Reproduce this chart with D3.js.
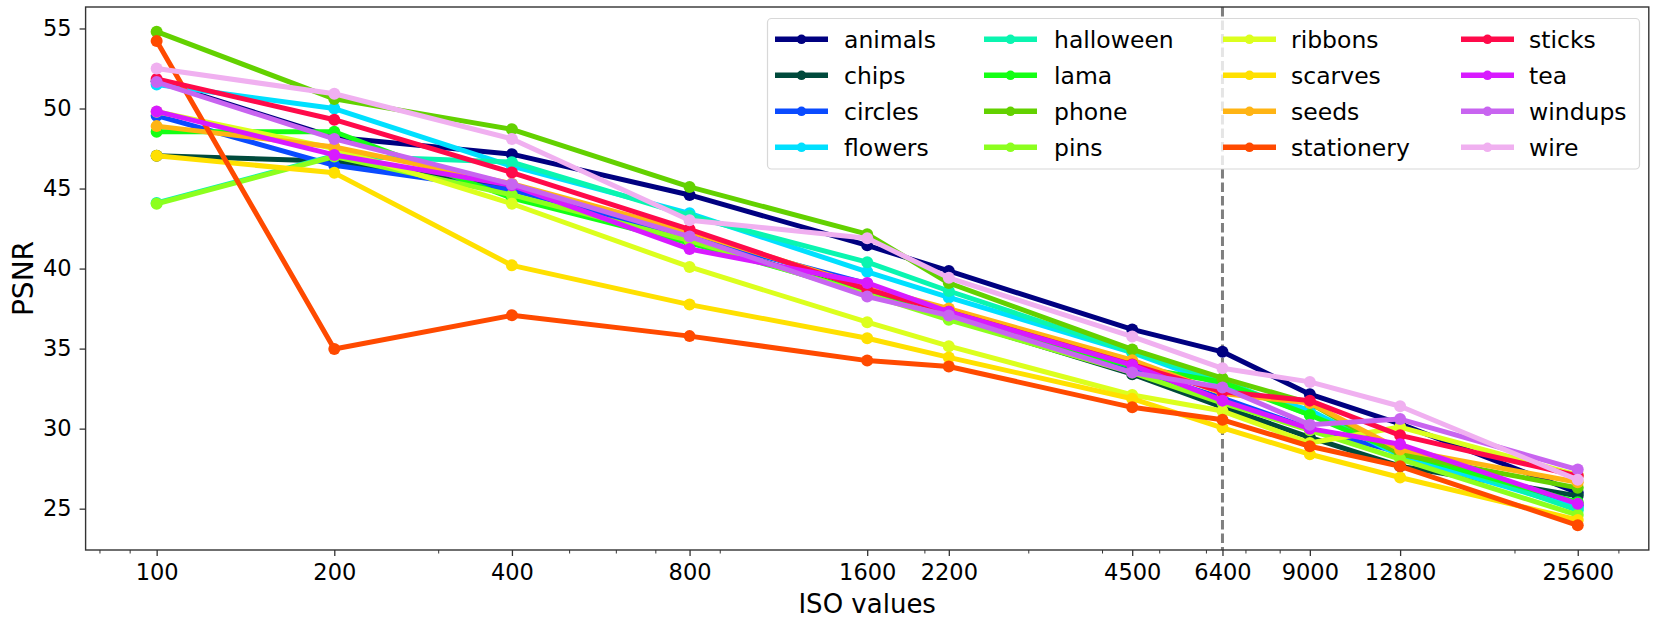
<!DOCTYPE html>
<html>
<head>
<meta charset="utf-8">
<script src="https://cdn.jsdelivr.net/npm/d3@7"></script>
<style>
  html, body { margin: 0; padding: 0; background: #fff; }
  svg { display: block; font-family: "DejaVu Sans", sans-serif; }
</style>
</head>
<body>
<svg id="chart" width="1655" height="626"></svg>
<script>
const isoValues = [100, 200, 400, 800, 1600, 2200, 4500, 6400, 9000, 12800, 25600];
const xTickLabels = ["100", "200", "400", "800", "1600", "2200", "4500", "6400", "9000", "12800", "25600"];
const yTickValues = [25, 30, 35, 40, 45, 50, 55];
const seriesNames = ["animals", "chips", "circles", "flowers", "halloween", "lama", "phone", "pins",
                     "ribbons", "scarves", "seeds", "stationery", "sticks", "tea", "windups", "wire"];
const seriesColors = ["#000080", "#004a3c", "#0a4bff", "#00e0ff", "#0af5b0", "#14ff14", "#63d100", "#8cff1e",
                      "#dcff1e", "#ffe000", "#ffb414", "#ff4a00", "#ff0a4a", "#d81aff", "#c864f0", "#f0b0f0"];
const animals    = [51.70, 48.20, 47.15, 44.60, 41.45, 39.85, 36.20, 34.80, 32.15, 30.30, 26.00];
const chips      = [47.05, 46.70, 45.10, 41.85, 38.45, 36.90, 33.40, 31.35, 29.45, 27.65, 25.80];
const circles    = [49.55, 46.45, 44.90, 42.00, 39.05, 37.20, 33.70, 31.90, 30.00, 28.50, 25.20];
const flowers    = [51.50, 50.00, 46.40, 43.45, 39.80, 38.20, 34.75, 32.70, 31.15, 28.30, 25.05];
const halloween  = [44.10, 47.05, 46.65, 43.30, 40.40, 38.60, 34.80, 33.00, 30.85, 28.75, 24.90];
const lama       = [48.55, 48.55, 44.40, 41.60, 38.50, 36.90, 33.90, 32.90, 30.85, 28.50, 25.40];
const phone      = [54.80, 50.60, 48.70, 45.10, 42.15, 39.10, 34.95, 33.15, 31.60, 28.40, 26.30];
const pins       = [44.05, 47.00, 44.60, 41.75, 38.40, 36.80, 33.50, 31.60, 29.90, 28.10, 24.60];
const ribbons    = [49.80, 47.50, 44.05, 40.10, 36.65, 35.15, 32.10, 31.10, 29.10, 30.10, 27.10];
const scarves    = [47.05, 45.98, 40.20, 37.75, 35.65, 34.45, 31.87, 30.05, 28.40, 26.95, 24.30];
const seeds      = [48.90, 47.60, 45.30, 42.30, 38.85, 37.50, 34.28, 32.20, 31.60, 28.70, 26.65];
const stationery = [54.22, 34.98, 37.08, 35.78, 34.25, 33.88, 31.33, 30.55, 28.90, 27.65, 23.96];
const sticks     = [51.85, 49.30, 46.00, 42.45, 38.70, 37.30, 34.00, 32.30, 31.75, 29.58, 27.05];
const tea        = [49.82, 47.10, 45.20, 41.22, 39.10, 37.30, 33.97, 31.75, 30.00, 29.02, 25.30];
const windups    = [51.65, 48.10, 45.27, 42.00, 38.25, 37.07, 33.50, 32.57, 30.25, 30.60, 27.44];
const wire       = [52.50, 50.92, 48.10, 43.02, 41.90, 39.42, 35.75, 33.77, 32.92, 31.40, 26.80];
const seriesValues = [animals, chips, circles, flowers, halloween, lama, phone, pins,
                      ribbons, scarves, seeds, stationery, sticks, tea, windups, wire];
const referenceIso = 6400;
const xLabel = "ISO values";
const yLabel = "PSNR";

const svg = d3.select("#chart");
const plot = { left: 85.6, right: 1648.8, top: 7, bottom: 550 };

// x: log scale with matplotlib-like 5% margins in log space
const xMin = d3.min(isoValues), xMax = d3.max(isoValues);
const lpad = 0.05 * Math.log10(xMax / xMin);
const x = d3.scaleLog()
  .domain([xMin / Math.pow(10, lpad), xMax * Math.pow(10, lpad)])
  .range([plot.left, plot.right]);

const allVals = seriesValues.flat();
const yMin = d3.min(allVals), yMax = d3.max(allVals);
const ypad = 0.05 * (yMax - yMin);
const y = d3.scaleLinear()
  .domain([yMin - ypad, yMax + ypad])
  .range([plot.bottom, plot.top]);

const fs = 22.5;

// minor ticks (log minors, excluding those coinciding with majors)
const [d0, d1] = x.domain();
const minorTicks = [];
for (let e = Math.floor(Math.log10(d0)); e <= Math.ceil(Math.log10(d1)); e++) {
  for (let s = 2; s <= 9; s++) {
    const v = s * Math.pow(10, e);
    if (v >= d0 && v <= d1 && !isoValues.some(t => Math.abs(t - v) < 1e-6)) minorTicks.push(v);
  }
}

// X axis
const xAxis = d3.axisBottom(x).tickValues(isoValues)
  .tickFormat((d, i) => xTickLabels[i]).tickSize(6).tickPadding(8);
const gx = svg.append("g").attr("transform", `translate(0,${plot.bottom})`).call(xAxis);
gx.select(".domain").remove();
gx.selectAll(".tick line").attr("stroke", "#333").attr("stroke-width", 1.3);
gx.selectAll(".tick text").attr("font-size", fs).attr("fill", "#000")
  .attr("font-family", "DejaVu Sans, sans-serif");

const xMinorAxis = d3.axisBottom(x).tickValues(minorTicks).tickFormat("").tickSize(3.5);
const gxm = svg.append("g").attr("transform", `translate(0,${plot.bottom})`).call(xMinorAxis);
gxm.select(".domain").remove();
gxm.selectAll(".tick line").attr("stroke", "#333").attr("stroke-width", 1);

// Y axis
const yAxis = d3.axisLeft(y).tickValues(yTickValues).tickSize(6).tickPadding(8);
const gy = svg.append("g").attr("transform", `translate(${plot.left},0)`).call(yAxis);
gy.select(".domain").remove();
gy.selectAll(".tick line").attr("stroke", "#333").attr("stroke-width", 1.3);
gy.selectAll(".tick text").attr("font-size", fs).attr("fill", "#000")
  .attr("font-family", "DejaVu Sans, sans-serif");

// Axis labels
svg.append("text")
  .attr("x", (plot.left + plot.right) / 2).attr("y", 613)
  .attr("text-anchor", "middle").attr("font-size", 26).attr("fill", "#000")
  .text(xLabel);
svg.append("text")
  .attr("transform", `translate(33,${(plot.top + plot.bottom) / 2}) rotate(-90)`)
  .attr("text-anchor", "middle").attr("font-size", 28).attr("fill", "#000")
  .text(yLabel);

// Reference dashed line
svg.append("line")
  .attr("x1", x(referenceIso)).attr("x2", x(referenceIso))
  .attr("y1", plot.top).attr("y2", plot.bottom)
  .attr("stroke", "#7f7f7f").attr("stroke-width", 3)
  .attr("stroke-dasharray", "9.5,4");

// Series
const line = d3.line().x((d, i) => x(isoValues[i])).y(d => y(d));
seriesNames.forEach((name, k) => {
  const g = svg.append("g").attr("class", "series");
  g.append("path").datum(seriesValues[k])
    .attr("d", line).attr("fill", "none")
    .attr("stroke", seriesColors[k]).attr("stroke-width", 5)
    .attr("stroke-linejoin", "round").attr("stroke-linecap", "butt");
  g.selectAll("circle").data(seriesValues[k]).join("circle")
    .attr("cx", (d, i) => x(isoValues[i])).attr("cy", d => y(d))
    .attr("r", 6).attr("fill", seriesColors[k]);
});

// Frame (spines)
svg.append("rect")
  .attr("x", plot.left).attr("y", plot.top)
  .attr("width", plot.right - plot.left).attr("height", plot.bottom - plot.top)
  .attr("fill", "none").attr("stroke", "#333").attr("stroke-width", 1.4);

// Legend
const legend = svg.append("g");
legend.append("rect")
  .attr("x", 767.5).attr("y", 18.5).attr("width", 872).attr("height", 150.5)
  .attr("rx", 4).attr("fill", "#fff").attr("fill-opacity", 0.8)
  .attr("stroke", "#d8d8d8").attr("stroke-width", 1.2);
const colHandleX = [775, 984, 1223, 1461];
const colTextX = [844, 1054, 1291, 1529];
const rowY = [39.3, 75.3, 111.3, 147.3];
seriesNames.forEach((name, k) => {
  const c = Math.floor(k / 4), r = k % 4;
  const hx = colHandleX[c], yy = rowY[r];
  legend.append("line")
    .attr("x1", hx).attr("x2", hx + 53).attr("y1", yy).attr("y2", yy)
    .attr("stroke", seriesColors[k]).attr("stroke-width", 5.5);
  legend.append("circle").attr("cx", hx + 26.5).attr("cy", yy).attr("r", 4.8)
    .attr("fill", seriesColors[k]);
  legend.append("text").attr("x", colTextX[c]).attr("y", yy)
    .attr("dy", "0.36em").attr("font-size", 23.5).attr("fill", "#000")
    .text(name);
});
</script>
</body>
</html>
